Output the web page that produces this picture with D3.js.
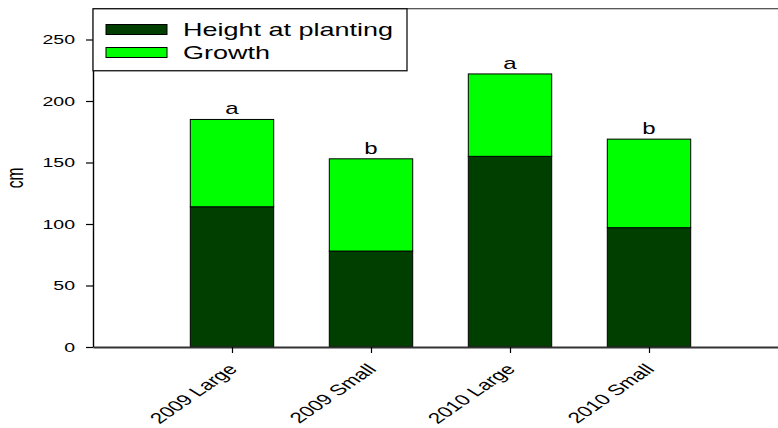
<!DOCTYPE html>
<html>
<head>
<meta charset="utf-8">
<script src="https://cdn.jsdelivr.net/npm/d3@7"></script>
<style>
  html, body { margin: 0; padding: 0; background: #fff; }
  svg { display: block; font-family: "Liberation Sans", Arial, sans-serif; }
</style>
</head>
<body>
<svg id="chart" width="778" height="428"></svg>
<script>
// Tree height at planting and subsequent growth, by year and size class
const categories = ["2009 Large", "2009 Small", "2010 Large", "2010 Small"];
const heightAtPlanting = [114, 78, 155, 97];
const growth = [71, 75, 67, 72];
const groupLetters = ["a", "b", "a", "b"];
const yTicks = [0, 50, 100, 150, 200, 250];
const seriesNames = ["Height at planting", "Growth"];
const seriesColors = ["#003f00", "#00ff00"];

// Text is drawn wide (horizontal stretch), as in the printed figure
const SX = 1.5;

const svg = d3.select("#chart");
svg.append("rect").attr("width", 778).attr("height", 428).attr("fill", "#fff");

const y = d3.scaleLinear().domain([0, 275]).range([347, 8.75]);
const x = d3.scaleLinear().domain([0, 5]).range([93, 788]);
const barW = (x(1) - x(0)) * 0.6;

// Stacked bars: planting height at the bottom, growth on top
const rows = categories.map((c, i) => ({
  cat: c, i, base: heightAtPlanting[i], grow: growth[i],
  total: heightAtPlanting[i] + growth[i], letter: groupLetters[i]
}));

const bars = svg.append("g");
bars.selectAll("rect.base").data(rows).join("rect")
  .attr("class", "base")
  .attr("x", d => x(d.i + 1) - barW / 2)
  .attr("width", barW)
  .attr("y", d => y(d.base))
  .attr("height", d => y(0) - y(d.base))
  .attr("fill", seriesColors[0])
  .attr("stroke", "#000").attr("stroke-width", 1);

bars.selectAll("rect.grow").data(rows).join("rect")
  .attr("class", "grow")
  .attr("x", d => x(d.i + 1) - barW / 2)
  .attr("width", barW)
  .attr("y", d => y(d.total))
  .attr("height", d => y(d.base) - y(d.total))
  .attr("fill", seriesColors[1])
  .attr("stroke", "#000").attr("stroke-width", 1);

// Significance letters above each bar
svg.append("g").selectAll("text").data(rows).join("text")
  .attr("transform", d => `translate(${x(d.i + 1)},${y(d.total) - 5}) scale(${SX},1)`)
  .attr("text-anchor", "middle")
  .attr("font-size", 16)
  .attr("fill", "#000")
  .text(d => d.letter);

// Top frame line
svg.append("line")
  .attr("x1", 93).attr("x2", 778)
  .attr("y1", y(275)).attr("y2", y(275))
  .attr("stroke", "#222").attr("stroke-width", 1.2);

// Y axis
const yAxis = svg.append("g")
  .attr("transform", "translate(93,0)")
  .call(d3.axisLeft(y).tickValues(yTicks).tickSize(7).tickSizeOuter(0));
yAxis.select(".domain").attr("stroke", "#000").attr("stroke-width", 1.4);
yAxis.selectAll(".tick line").attr("stroke", "#000").attr("stroke-width", 1.2);
yAxis.selectAll(".tick text")
  .attr("x", null).attr("dy", "0.34em")
  .attr("transform", `translate(-18,0) scale(${SX},1)`)
  .attr("text-anchor", "end")
  .attr("font-size", 13)
  .attr("font-family", "Liberation Sans, Arial, sans-serif")
  .attr("fill", "#000");

// X axis
const xAxis = svg.append("g")
  .attr("transform", `translate(0,${y(0)})`)
  .call(d3.axisBottom(x).tickValues([1, 2, 3, 4])
    .tickFormat(v => categories[v - 1]).tickSize(6).tickSizeOuter(0));
xAxis.select(".domain").attr("stroke", "#333").attr("stroke-width", 2.2);
xAxis.selectAll(".tick line").attr("stroke", "#000").attr("stroke-width", 1.2);
xAxis.selectAll(".tick text")
  .attr("y", 0).attr("dy", 0)
  .attr("transform", `translate(6,23) scale(${SX},1) rotate(-46)`)
  .attr("text-anchor", "end")
  .attr("font-size", 15)
  .attr("font-family", "Liberation Sans, Arial, sans-serif")
  .attr("fill", "#000");

// Y axis title
svg.append("text")
  .attr("transform", `translate(23,178) scale(1.6,1) rotate(-90)`)
  .attr("text-anchor", "middle")
  .attr("font-size", 15.5)
  .attr("fill", "#000")
  .text("cm");

// Legend
const legend = svg.append("g");
legend.append("rect")
  .attr("x", 93).attr("y", y(275))
  .attr("width", 314).attr("height", 62)
  .attr("fill", "#fff").attr("stroke", "#111").attr("stroke-width", 1.3);
const swatchY = [24.5, 47.5];
const textY = [36, 59];
seriesNames.forEach((name, k) => {
  legend.append("rect")
    .attr("x", 106).attr("y", swatchY[k])
    .attr("width", 61).attr("height", 10)
    .attr("fill", seriesColors[k]).attr("stroke", "#000").attr("stroke-width", 1);
  legend.append("text")
    .attr("transform", `translate(183,${textY[k]}) scale(${SX},1)`)
    .attr("font-size", 18)
    .attr("fill", "#000")
    .text(name);
});
</script>
</body>
</html>
